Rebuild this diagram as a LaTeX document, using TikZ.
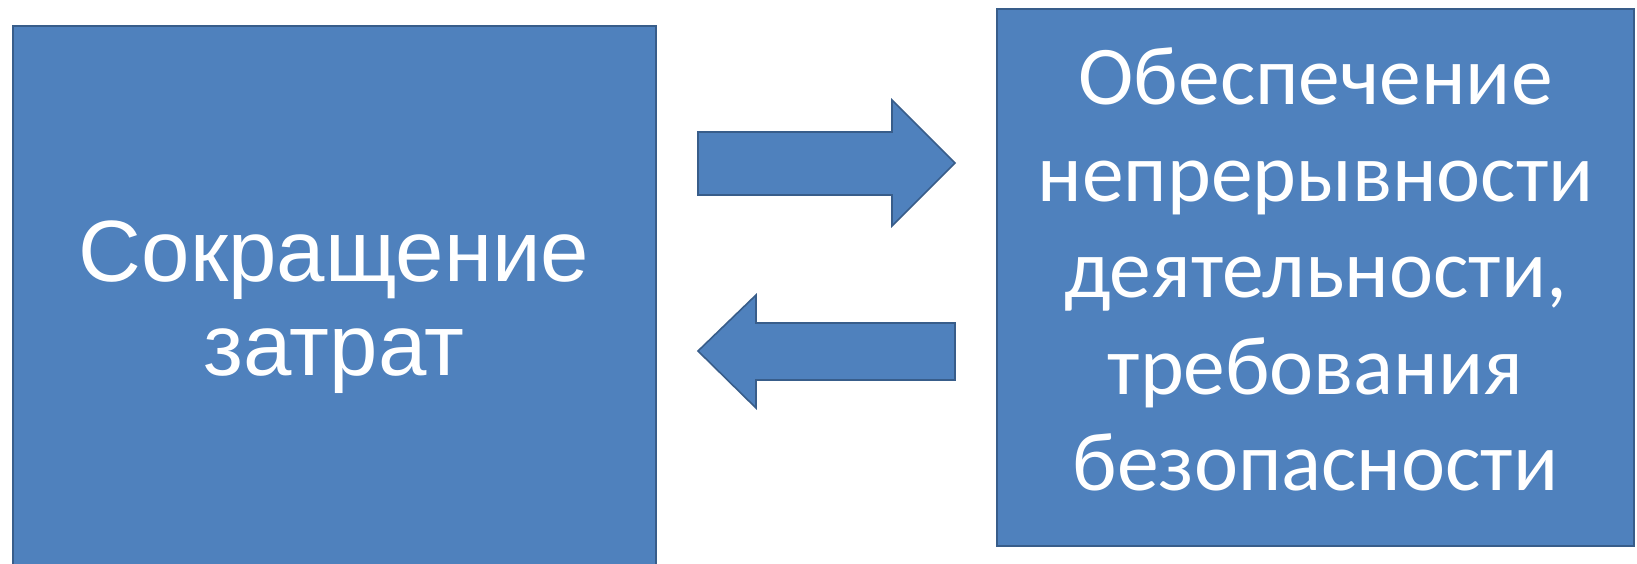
\documentclass[tikz,border=0pt]{standalone}
\usepackage{fontspec}
\setmainfont{Liberation Sans}
\newfontfamily\calibrifont{Carlito}
\definecolor{boxfill}{RGB}{79,129,189}
\definecolor{boxline}{RGB}{56,93,138}
\tikzset{
  bluebox/.style={draw=boxline, line width=2pt, fill=boxfill,
    inner sep=0pt, outer sep=0pt},
  boxtext/.style={text=white, align=center, inner sep=0pt},
  blockarrow/.style={draw=boxline, line width=1.6pt, fill=boxfill, line join=miter}
}
\begin{document}
\begin{tikzpicture}[x=1pt,y=-1pt]
  \useasboundingbox (0,0) rectangle (1637,563);
  \fill[white] (0,0) rectangle (1637,563);
  % left box: cost reduction
  \node[bluebox, minimum width=643pt, minimum height=544pt, anchor=north west]
        (cost) at (12.5,26) {};
  \node[boxtext, font=\fontsize{87}{94}\selectfont] (costtext)
        at ([yshift=-9pt]cost.center) {Сокращение\\затрат};
  % right box: continuity and security requirements
  \node[bluebox, minimum width=637pt, minimum height=537pt, anchor=north west]
        (safe) at (997,9) {};
  \node[boxtext, font=\calibrifont\fontsize{83.5}{96.5}\selectfont] (safetext)
        at ([yshift=8pt]safe.center)
        {Обеспечение\\непрерывности\\деятельности,\\требования\\безопасности};
  % block arrow pointing right
  \draw[blockarrow] (698,132) -- (892,132) -- (892,100) -- (955,163)
        -- (892,226) -- (892,195) -- (698,195) -- cycle;
  % block arrow pointing left
  \draw[blockarrow] (955,323) -- (756,323) -- (756,295) -- (698,351)
        -- (756,408) -- (756,380) -- (955,380) -- cycle;
\end{tikzpicture}
\end{document}
